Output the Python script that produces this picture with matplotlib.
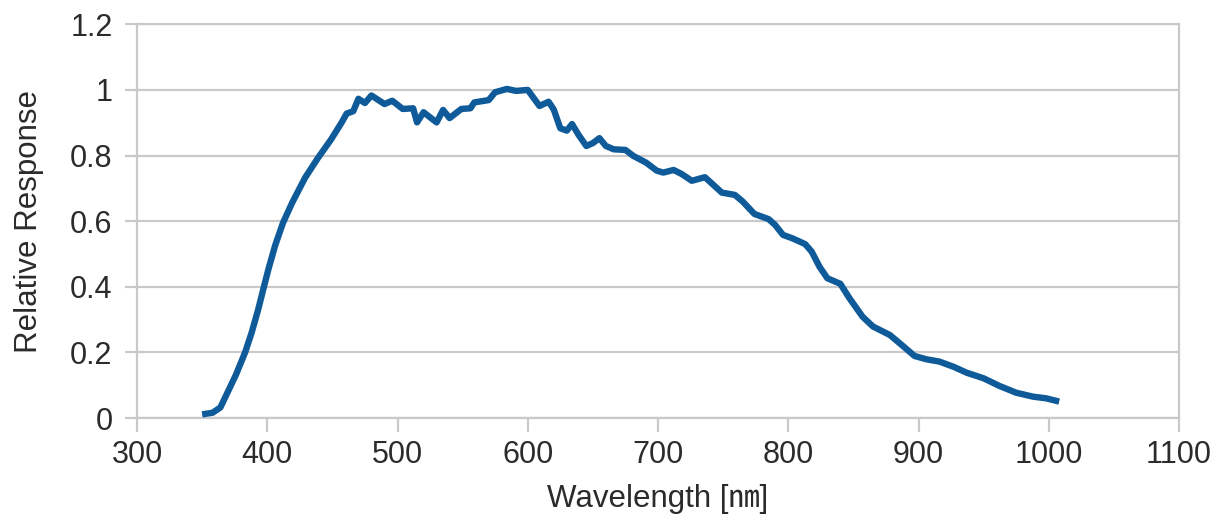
import matplotlib
matplotlib.use("Agg")
import matplotlib.pyplot as plt

wavelength = [350, 358, 364, 370, 376, 383, 388, 393, 397, 401, 406, 412, 419, 429, 439,
              449, 457, 461, 466, 470, 475, 480, 490, 496, 504, 512, 515, 520, 530, 535,
              540, 549, 556, 559, 570, 575, 584, 591, 600, 609, 616, 620, 625, 630, 634,
              639, 645, 650, 655, 660, 666, 675, 681, 691, 699, 704, 712, 718, 726, 736,
              741, 749, 759, 765, 774, 785, 790, 796, 803, 813, 818, 824, 830, 840, 847,
              857, 865, 878, 887, 897, 906, 916, 927, 937, 950, 962, 975, 988, 998, 1008]
response = [0.011, 0.016, 0.032, 0.082, 0.132, 0.20, 0.26, 0.33, 0.393, 0.455, 0.525,
            0.594, 0.655, 0.732, 0.793, 0.849, 0.90, 0.928, 0.935, 0.973, 0.96, 0.983,
            0.957, 0.967, 0.942, 0.944, 0.901, 0.932, 0.901, 0.939, 0.914, 0.942, 0.944,
            0.962, 0.969, 0.993, 1.003, 0.997, 1.0, 0.951, 0.964, 0.94, 0.883, 0.876,
            0.896, 0.863, 0.829, 0.838, 0.853, 0.829, 0.819, 0.817, 0.799, 0.778, 0.754,
            0.748, 0.756, 0.744, 0.723, 0.734, 0.716, 0.687, 0.68, 0.66, 0.622, 0.606,
            0.588, 0.558, 0.548, 0.53, 0.507, 0.461, 0.426, 0.409, 0.365, 0.309, 0.279,
            0.253, 0.223, 0.189, 0.179, 0.172, 0.156, 0.138, 0.121, 0.098, 0.077, 0.065,
            0.06, 0.05]

x_ticks = [300, 400, 500, 600, 700, 800, 900, 1000, 1100]
y_ticks = [0, 0.2, 0.4, 0.6, 0.8, 1.0, 1.2]
y_tick_labels = ["0", "0.2", "0.4", "0.6", "0.8", "1", "1.2"]

fam = ["Liberation Sans", "Noto Sans CJK JP", "DejaVu Sans"]
plt.rcParams["font.family"] = fam

grid_c = "#c9c9c9"
text_c = "#2b2b2b"

fig = plt.figure(figsize=(12.16, 5.27), dpi=100)
ax = fig.add_axes([137 / 1216, 1 - 418 / 527, (1179 - 137) / 1216, (418 - 24.3) / 527])

ax.plot(wavelength, response, color="#0f5a98", lw=4.6, solid_joinstyle="round",
        solid_capstyle="butt", zorder=3)

ax.set_xlim(300, 1100)
ax.set_ylim(0, 1.2)
ax.set_xticks(x_ticks)
ax.set_yticks(y_ticks)
ax.set_yticklabels(y_tick_labels)
ax.grid(axis="y", color=grid_c, lw=1.6, zorder=0)
for s in ax.spines.values():
    s.set_color(grid_c)
    s.set_linewidth(1.6)
ax.tick_params(axis="x", length=10, width=1.6, color=grid_c, pad=6,
               labelsize=22, labelcolor=text_c)
ax.tick_params(axis="y", length=8.6, width=1.6, color=grid_c, pad=9,
               labelsize=22, labelcolor=text_c)

ax.set_xlabel("Wavelength [㎚]", fontsize=22.5, color=text_c, labelpad=10)
ax.set_ylabel("Relative Response", fontsize=22.5, color=text_c, labelpad=19)

fig.savefig("out.png", dpi=100)
